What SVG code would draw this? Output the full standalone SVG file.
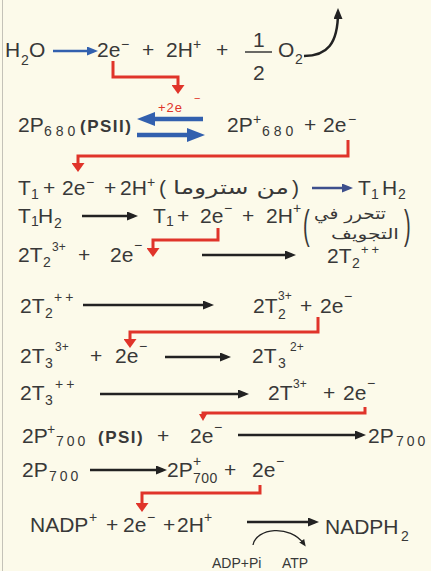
<svg xmlns="http://www.w3.org/2000/svg" width="431" height="571" viewBox="0 0 431 571">
<style>
.t{font-family:"Liberation Sans",Arial,sans-serif;font-size:21px;fill:#383838}
.s{font-size:14px}
.ss{font-size:12px}
.b{font-weight:bold;font-size:17px;letter-spacing:1.5px}
.p{font-size:40px}
.ar{font-family:"DejaVu Sans","Noto Sans",sans-serif;font-size:16px;fill:#383838}
.red{fill:#e0342a;font-size:13px;letter-spacing:1px}
.k{stroke:#222;stroke-width:2.5;fill:none}
.bl{stroke:#3260ae;fill:none}
.r{stroke:#e0342a;stroke-width:3;fill:none}
</style>
<defs>
<marker id="hk" viewBox="0 0 11 9" refX="7" refY="4.5" markerWidth="11" markerHeight="9" markerUnits="userSpaceOnUse" orient="auto"><path d="M0,0 L11,4.5 L0,9 z" fill="#222"/></marker>
<marker id="hb" viewBox="0 0 11 9" refX="7" refY="4.5" markerWidth="11" markerHeight="9" markerUnits="userSpaceOnUse" orient="auto"><path d="M0,0 L11,4.5 L0,9 z" fill="#3260ae"/></marker>
<marker id="hn" viewBox="0 0 11 9" refX="7" refY="4.5" markerWidth="11" markerHeight="9" markerUnits="userSpaceOnUse" orient="auto"><path d="M0,0 L11,4.5 L0,9 z" fill="#3d4f8c"/></marker>
<marker id="hB" viewBox="0 0 18 14" refX="10" refY="7" markerWidth="18" markerHeight="14" markerUnits="userSpaceOnUse" orient="auto"><path d="M0,0 L18,7 L0,14 z" fill="#3260ae"/></marker>
<marker id="hr" viewBox="0 0 9 13" refX="5" refY="6.5" markerWidth="9" markerHeight="13" markerUnits="userSpaceOnUse" orient="auto"><path d="M0,0 L9,6.5 L0,13 z" fill="#e0342a"/></marker>
<marker id="hr2" viewBox="0 0 7 8" refX="4" refY="4" markerWidth="7" markerHeight="8" markerUnits="userSpaceOnUse" orient="auto"><path d="M0,0 L7,4 L0,8 z" fill="#e0342a"/></marker>
<marker id="hs" viewBox="0 0 7 6" refX="4" refY="3" markerWidth="7" markerHeight="6" markerUnits="userSpaceOnUse" orient="auto"><path d="M0,0 L7,3 L0,6 z" fill="#222"/></marker>
</defs>
<rect width="431" height="571" fill="#fcfaea"/>
<line x1="2.5" y1="0" x2="2.5" y2="571" stroke="#c4c2b8" stroke-width="1"/>

<g id="eq1">
<text class="t" y="57"><tspan x="5">H</tspan><tspan class="s" x="21" y="65">2</tspan><tspan x="29" y="57">O</tspan></text>
<text class="t" y="57"><tspan x="97">2e</tspan><tspan class="s" x="121" y="49">−</tspan><tspan x="142" y="57">+</tspan><tspan x="166">2H</tspan><tspan class="s" x="193" y="49">+</tspan><tspan x="216" y="57">+</tspan></text>
<text class="t"><tspan x="253" y="47">1</tspan><tspan x="253" y="80">2</tspan></text>
<line x1="245" y1="52" x2="272" y2="52" stroke="#383838" stroke-width="1.5"/>
<text class="t" y="57"><tspan x="278">O</tspan><tspan class="s" x="295" y="64">2</tspan></text>
</g>

<g id="eq2">
<text class="t" y="132"><tspan x="18">2P</tspan><tspan class="s" x="44" y="136" letter-spacing="4">680</tspan></text>
<text class="t b" x="80" y="132">(PSII)</text>
<text class="t red"><tspan x="158" y="112">+2e</tspan><tspan x="194" y="102" font-size="11">−</tspan></text>
<text class="t" y="132"><tspan x="227">2P</tspan><tspan class="s" x="253" y="124">+</tspan><tspan class="s" x="262" y="136" letter-spacing="4">680</tspan><tspan x="304" y="132">+</tspan><tspan x="323">2e</tspan><tspan class="s" x="348" y="124">−</tspan></text>
</g>

<g id="eq3">
<text class="t" y="195"><tspan x="18">T</tspan><tspan class="s" x="31" y="199">1</tspan><tspan x="43" y="195">+</tspan><tspan x="62">2e</tspan><tspan class="s" x="86" y="187">−</tspan><tspan x="104" y="195">+</tspan><tspan x="120">2H</tspan><tspan class="s" x="147" y="187">+</tspan><tspan x="159" y="195">(</tspan><tspan x="292" y="195">)</tspan></text>
<text class="ar" x="231" y="194" text-anchor="middle" style="font-size:19px" textLength="116" lengthAdjust="spacingAndGlyphs">من ستروما</text>
<text class="t" y="195"><tspan x="358">T</tspan><tspan class="s" x="371" y="199">1</tspan><tspan x="382" y="195">H</tspan><tspan class="s" x="398" y="199">2</tspan></text>
</g>

<g id="eq4">
<text class="t" y="223"><tspan x="18">T</tspan><tspan class="s" x="31" y="226">1</tspan><tspan x="38" y="223">H</tspan><tspan class="s" x="54" y="228">2</tspan></text>
<text class="t" y="223"><tspan x="153">T</tspan><tspan class="s" x="166" y="226">1</tspan><tspan x="177" y="223">+</tspan><tspan x="200">2e</tspan><tspan class="s" x="224" y="213">−</tspan><tspan x="242" y="223">+</tspan><tspan x="266">2H</tspan><tspan class="s" x="293" y="213">+</tspan></text>
<text class="t p" transform="translate(303,239) scale(0.5,1)">(</text>
<text class="ar" x="350" y="219" text-anchor="middle" textLength="72" lengthAdjust="spacingAndGlyphs">تتحرر في</text>
<text class="ar" x="365" y="239" text-anchor="middle" style="font-size:15px" textLength="68" lengthAdjust="spacingAndGlyphs">التجويف</text>
<text class="t p" transform="translate(404,239) scale(0.5,1)">)</text>
</g>

<g id="eq5">
<text class="t" y="262"><tspan x="18">2T</tspan><tspan class="s" x="43" y="267">2</tspan><tspan class="ss" x="52" y="251">3+</tspan><tspan x="78" y="262">+</tspan><tspan x="110">2e</tspan><tspan class="s" x="134" y="250">−</tspan></text>
<text class="t" y="263"><tspan x="327">2T</tspan><tspan class="s" x="352" y="268">2</tspan><tspan x="361" y="254" style="font-size:13px" letter-spacing="3">++</tspan></text>
</g>

<g id="eq6">
<text class="t" y="313"><tspan x="20">2T</tspan><tspan class="s" x="45" y="318">2</tspan><tspan class="s" x="54" y="302" letter-spacing="3">++</tspan></text>
<text class="t" y="313"><tspan x="253">2T</tspan><tspan class="s" x="278" y="319">2</tspan><tspan class="ss" x="278" y="300">3+</tspan><tspan x="300" y="313">+</tspan><tspan x="320">2e</tspan><tspan class="s" x="344" y="301">−</tspan></text>
</g>

<g id="eq7">
<text class="t" y="363"><tspan x="20">2T</tspan><tspan class="s" x="45" y="368">3</tspan><tspan class="ss" x="55" y="351">3+</tspan><tspan x="90" y="363">+</tspan><tspan x="115">2e</tspan><tspan class="s" x="139" y="351">−</tspan></text>
<text class="t" y="363"><tspan x="252">2T</tspan><tspan class="s" x="278" y="368">3</tspan><tspan class="ss" x="290" y="351">2+</tspan></text>
</g>

<g id="eq8">
<text class="t" y="400"><tspan x="20">2T</tspan><tspan class="s" x="45" y="405">3</tspan><tspan class="s" x="55" y="389" letter-spacing="3">++</tspan></text>
<text class="t" y="400"><tspan x="268">2T</tspan><tspan class="ss" x="293" y="388">3+</tspan><tspan x="323" y="400">+</tspan><tspan x="343">2e</tspan><tspan class="s" x="367" y="388">−</tspan></text>
</g>

<g id="eq9">
<text class="t" y="443"><tspan x="22">2P</tspan><tspan class="s" x="47" y="434">+</tspan><tspan class="s" x="56" y="446" letter-spacing="3">700</tspan></text>
<text class="t b" x="98" y="443">(PSI)</text>
<text class="t" y="443"><tspan x="157">+</tspan><tspan x="190">2e</tspan><tspan class="s" x="214" y="432">−</tspan></text>
<text class="t" y="443"><tspan x="368">2P</tspan><tspan class="s" x="396" y="446" letter-spacing="3">700</tspan></text>
</g>

<g id="eq10">
<text class="t" y="477"><tspan x="22">2P</tspan><tspan class="s" x="49" y="481" letter-spacing="3">700</tspan></text>
<text class="t" y="477"><tspan x="167">2P</tspan><tspan class="s" x="193" y="466">+</tspan><tspan class="s" x="193" y="483" letter-spacing="0.5">700</tspan><tspan x="224" y="477">+</tspan><tspan x="252">2e</tspan><tspan class="s" x="276" y="466">−</tspan></text>
</g>

<g id="eq11">
<text class="t" y="532"><tspan x="30">NADP</tspan><tspan class="s" x="89" y="522">+</tspan><tspan x="106" y="532">+</tspan><tspan x="123">2e</tspan><tspan class="s" x="147" y="522">−</tspan><tspan x="163" y="532">+</tspan><tspan x="177">2H</tspan><tspan class="s" x="204" y="522">+</tspan></text>
<text class="t" y="534"><tspan x="325">NADPH</tspan><tspan class="s" x="401" y="541">2</tspan></text>
<text class="t s" x="212" y="568">ADP+Pi</text>
<text class="t s" x="282" y="568">ATP</text>
</g>

<g id="connectors">
<path d="M304,56 C327,56 338,44 338,12" stroke="#222" stroke-width="2.5" fill="none" marker-end="url(#hk)"/>
<line class="bl" x1="53" y1="51" x2="94" y2="51" stroke-width="2.5" marker-end="url(#hb)"/>
<line class="bl" x1="203" y1="119" x2="145" y2="119" stroke-width="4.5" marker-end="url(#hB)"/>
<line class="bl" x1="137" y1="135" x2="197" y2="135" stroke-width="4.5" marker-end="url(#hB)"/>
<line x1="312" y1="188" x2="349" y2="188" stroke="#3d4f8c" stroke-width="2.5" marker-end="url(#hn)"/>
<line class="k" x1="82" y1="216" x2="134" y2="216" marker-end="url(#hk)"/>
<line class="k" x1="202" y1="255" x2="292" y2="255" marker-end="url(#hk)"/>
<line class="k" x1="83" y1="305" x2="210" y2="305" marker-end="url(#hk)"/>
<line class="k" x1="165" y1="357" x2="227" y2="357" marker-end="url(#hk)"/>
<line class="k" x1="100" y1="394" x2="245" y2="394" marker-end="url(#hk)"/>
<line class="k" x1="238" y1="435" x2="362" y2="435" marker-end="url(#hk)"/>
<line class="k" x1="90" y1="470" x2="163" y2="470" marker-end="url(#hk)"/>
<line class="k" x1="247" y1="522" x2="315" y2="522" stroke-width="3.5" marker-end="url(#hk)"/>
<path d="M253,545 C256,528 290,524 304,544" stroke="#222" stroke-width="1.3" fill="none" marker-end="url(#hs)"/>
<path class="r" d="M113,61 V77 H178 V90" marker-end="url(#hr)"/>
<path class="r" d="M348,140 V156 H78 V168" marker-end="url(#hr)"/>
<path class="r" d="M218,228 V240 H153 V253" marker-end="url(#hr)"/>
<path class="r" d="M318,317 V332 H130 V344" marker-end="url(#hr)"/>
<path class="r" d="M365,407 V413 H203 V418" stroke-width="2" marker-end="url(#hr2)"/>
<path class="r" d="M260,485 V493 H142 V508" marker-end="url(#hr)"/>
</g>
</svg>
